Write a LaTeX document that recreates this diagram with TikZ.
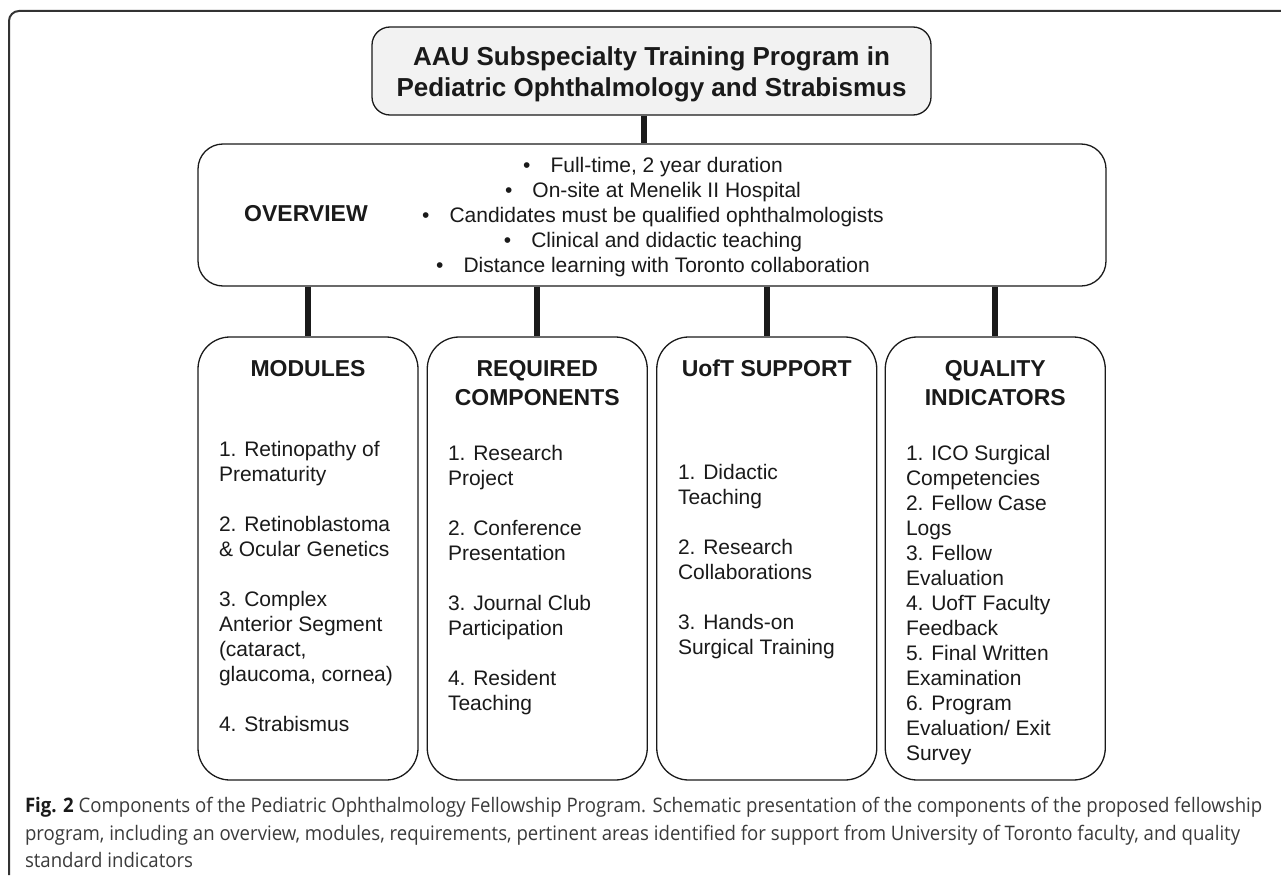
\documentclass[tikz,border=0pt]{standalone}
\usepackage{graphicx}
\usepackage{fontspec}
\setmainfont{Liberation Sans}
\newfontfamily\capfont{Open Sans}

\definecolor{ink}{HTML}{1A1A1A}
\definecolor{framecol}{HTML}{333333}
\definecolor{titlefill}{HTML}{F2F2F2}
\definecolor{captext}{HTML}{3A3A3A}

% stacked lines whose baseline is the baseline of the first line
\newcommand{\stack}[2]{\begin{tabular}[t]{@{}#1@{}}#2\end{tabular}}
\newcommand{\titlefont}{\fontsize{26}{31.7}\selectfont\bfseries}
\newcommand{\headfont}{\fontsize{23}{28.3}\selectfont\bfseries}
\newcommand{\listfont}{\fontsize{21}{25}\selectfont}
\newcommand{\capfontsize}{\capfont\fontsize{20}{27.5}\selectfont}
\newcommand{\bul}{\textbullet\hspace{20pt}}
\newcommand{\gap}{\\[25pt]}

\tikzset{
  panel/.style={draw=ink, line width=1.3pt, rounded corners=#1, inner sep=0pt, fill=white},
  txt/.style={inner sep=0pt, outer sep=0pt, text=ink},
  link/.style={draw=ink, line width=6pt},
}

\begin{document}
\begin{tikzpicture}[x=1pt, y=-1pt]
\useasboundingbox (0,0) rectangle (1281,875);

% outer figure frame (open on the right and at the bottom)
\draw[framecol, line width=2pt, rounded corners=10pt] (9,875) -- (9,11) -- (1282,11);

% boxes
\node[panel=18pt, fill=titlefill, minimum width=559pt, minimum height=88pt] (title) at (651.5,71) {};
\node[panel=25pt, minimum width=908pt, minimum height=142pt] (overview) at (652,215) {};
\node[panel=32pt, minimum width=220pt, minimum height=443pt] (modules) at (308,558.5) {};
\node[panel=32pt, minimum width=220pt, minimum height=443pt] (required) at (537.25,558.5) {};
\node[panel=32pt, minimum width=220pt, minimum height=443pt] (uoft) at (766.75,558.5) {};
\node[panel=32pt, minimum width=220pt, minimum height=443pt] (quality) at (995.25,558.5) {};

% connectors
\draw[link] (644,0 |- title.south) -- (644,0 |- overview.north);
\foreach \b in {modules,required,uoft,quality}
  \draw[link] (\b.north |- overview.south) -- (\b.north);

% title
\node[txt, anchor=base] (titletext) at (651.5,65)
  {\titlefont\stack{c}{AAU Subspecialty Training Program in\\Pediatric Ophthalmology and Strabismus}};

% overview
\node[txt, anchor=base] (ovhead) at (306,221.7) {\headfont OVERVIEW};
\node[txt, anchor=base] (ovlist) at (653,172.7)
  {\listfont\stack{c}{\bul Full-time, 2 year duration\\
  \bul On-site at Menelik II Hospital\\
  \bul Candidates must be qualified ophthalmologists\\
  \bul Clinical and didactic teaching\\
  \bul Distance learning with Toronto collaboration}};

% column headings
\node[txt, anchor=base] (modhead) at (308,376.7) {\headfont MODULES};
\node[txt, anchor=base] (reqhead) at (537.25,376.7) {\headfont\stack{c}{REQUIRED\\COMPONENTS}};
\node[txt, anchor=base] (uofthead) at (766.75,376.7) {\headfont UofT SUPPORT};
\node[txt, anchor=base] (qualhead) at (995.25,376.7) {\headfont\stack{c}{QUALITY\\INDICATORS}};

% column contents
\node[txt, anchor=base west] (modlist) at (219,456)
  {\listfont\stack{l}{1. Retinopathy of\\Prematurity\gap
  2. Retinoblastoma\\\& Ocular Genetics\gap
  3. Complex\\Anterior Segment\\(cataract,\\glaucoma, cornea)\gap
  4. Strabismus}};
\node[txt, anchor=base west] (reqlist) at (448,460)
  {\listfont\stack{l}{1. Research\\Project\gap
  2. Conference\\Presentation\gap
  3. Journal Club\\Participation\gap
  4. Resident\\Teaching}};
\node[txt, anchor=base west] (uoftlist) at (678,479)
  {\listfont\stack{l}{1. Didactic\\Teaching\gap
  2. Research\\Collaborations\gap
  3. Hands-on\\Surgical Training}};
\node[txt, anchor=base west] (quallist) at (906,460)
  {\listfont\stack{l}{1. ICO Surgical\\Competencies\\
  2. Fellow Case\\Logs\\
  3. Fellow\\Evaluation\\
  4. UofT Faculty\\Feedback\\
  5. Final Written\\Examination\\
  6. Program\\Evaluation/ Exit\\Survey}};

% caption
\node[txt, text=captext, anchor=base west] (caption) at (25,812.5)
  {\capfontsize\scalebox{0.93}[1]{\stack{l}{{\color{ink}\bfseries Fig. 2} Components of the Pediatric Ophthalmology Fellowship Program. Schematic presentation of the components of the proposed fellowship\\
  program, including an overview, modules, requirements, pertinent areas identified for support from University of Toronto faculty, and quality\\
  standard indicators}}};
\end{tikzpicture}
\end{document}
